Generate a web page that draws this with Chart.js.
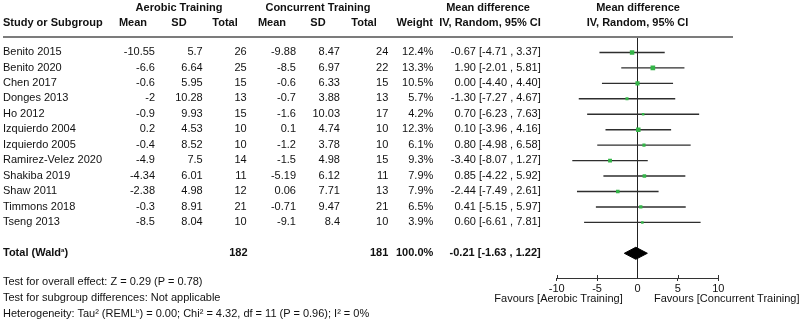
<!DOCTYPE html>
<html>
<head>
<meta charset="utf-8">
<script src="https://cdn.jsdelivr.net/npm/chart.js@4.4.1/dist/chart.umd.min.js"></script>
<style>
  html, body { margin: 0; padding: 0; background: #fff; }
  #wrap { position: relative; width: 800px; height: 324px; overflow: hidden;
    font-family: "Liberation Sans", Arial, sans-serif; font-size: 11px; color: #111; }
  #wrap canvas { position: absolute; left: 0; top: 0; }
  .t { position: absolute; white-space: nowrap; line-height: 13px; }
  .b { font-weight: bold; }
  sup { font-size: 6px; vertical-align: 4px; line-height: 0; }
  #hline { position: absolute; left: 3px; top: 36px; width: 730px; height: 2px; background: #7c7c7c; }
</style>
</head>
<body>
<div id="wrap">
  <canvas id="forest" width="800" height="324"></canvas>
  <div id="hline"></div>
</div>
<script>
const studies = ['Benito 2015', 'Benito 2020', 'Chen 2017', 'Donges 2013', 'Ho 2012', 'Izquierdo 2004',
  'Izquierdo 2005', 'Ramirez-Velez 2020', 'Shakiba 2019', 'Shaw 2011', 'Timmons 2018', 'Tseng 2013'];
const aerMean = [-10.55, -6.6, -0.6, -2, -0.9, 0.2, -0.4, -4.9, -4.34, -2.38, -0.3, -8.5];
const aerSD = [5.7, 6.64, 5.95, 10.28, 9.93, 4.53, 8.52, 7.5, 6.01, 4.98, 8.91, 8.04];
const aerN = [26, 25, 15, 13, 15, 10, 10, 14, 11, 12, 21, 10];
const conMean = [-9.88, -8.5, -0.6, -0.7, -1.6, 0.1, -1.2, -1.5, -5.19, 0.06, -0.71, -9.1];
const conSD = [8.47, 6.97, 6.33, 3.88, 10.03, 4.74, 3.78, 4.98, 6.12, 7.71, 9.47, 8.4];
const conN = [24, 22, 15, 13, 17, 10, 10, 15, 11, 13, 21, 10];
const weights = [12.4, 13.3, 10.5, 5.7, 4.2, 12.3, 6.1, 9.3, 7.9, 7.9, 6.5, 3.9];
const md = [-0.67, 1.90, 0.00, -1.30, 0.70, 0.10, 0.80, -3.40, 0.85, -2.44, 0.41, 0.60];
const ciLow = [-4.71, -2.01, -4.40, -7.27, -6.23, -3.96, -4.98, -8.07, -4.22, -7.49, -5.15, -6.61];
const ciHigh = [3.37, 5.81, 4.40, 4.67, 7.63, 4.16, 6.58, 1.27, 5.92, 2.61, 5.97, 7.81];
const totalAerN = 182;
const totalConN = 181;
const totalMd = -0.21;
const totalLow = -1.63;
const totalHigh = 1.22;
const xTicks = [-10, -5, 0, 5, 10];

const totalRow = 13;   // one blank row between the studies and the total
const fontFamily = '"Liberation Sans", Arial, sans-serif';

const datasets = [];
// squares
datasets.push({
  type: 'scatter',
  data: md.map((m, i) => ({ x: m, y: i })),
  pointStyle: 'rect',
  pointRadius: weights.map(w => Math.sqrt(w) * 0.9),
  backgroundColor: '#34b548',
  borderWidth: 0,
  order: 0
});
// confidence intervals
studies.forEach((s, i) => {
  datasets.push({
    type: 'line',
    data: [{ x: ciLow[i], y: i }, { x: ciHigh[i], y: i }],
    borderColor: '#2e2e2e',
    borderWidth: 1.4,
    pointRadius: 0,
    order: 1
  });
});
// pooled diamond
const dh = 0.39;
datasets.push({
  type: 'line',
  data: [
    { x: totalLow, y: totalRow },
    { x: totalMd, y: totalRow - dh },
    { x: totalHigh, y: totalRow },
    { x: totalMd, y: totalRow + dh },
    { x: totalLow, y: totalRow }
  ],
  borderColor: '#000',
  backgroundColor: '#000',
  borderWidth: 1,
  pointRadius: 0,
  fill: 'shape',
  order: 0
});

// small tick marks above the axis line too (the reference ticks cross the axis)
const crossTicks = {
  id: 'crossTicks',
  afterDraw(c) {
    const x = c.scales.x, ctx = c.ctx, y0 = c.chartArea.bottom;
    ctx.save();
    ctx.strokeStyle = '#333';
    ctx.lineWidth = 1;
    xTicks.forEach(v => {
      if (v === 0) return;
      const px = Math.round(x.getPixelForValue(v)) + 0.5;
      ctx.beginPath();
      ctx.moveTo(px, y0 - 3);
      ctx.lineTo(px, y0);
      ctx.stroke();
    });
    ctx.restore();
  }
};

const chart = new Chart(document.getElementById('forest'), {
  data: { datasets },
  plugins: [crossTicks],
  options: {
    responsive: false,
    animation: false,
    layout: { padding: { left: 556.7, right: 81.7, top: 37, bottom: 0 } },
    plugins: { legend: { display: false }, tooltip: { enabled: false } },
    scales: {
      x: {
        type: 'linear',
        min: xTicks[0],
        max: xTicks[xTicks.length - 1],
        afterBuildTicks: (s) => { s.ticks = xTicks.map(v => ({ value: v })); },
        afterFit: (s) => { s.height = 46; },
        ticks: { color: '#111', padding: 1, font: { family: fontFamily, size: 11 } },
        grid: {
          drawOnChartArea: true,
          color: (ctx) => (ctx.tick && ctx.tick.value === 0 ? '#222' : 'rgba(0,0,0,0)'),
          tickColor: (ctx) => (ctx.tick && ctx.tick.value === 0 ? 'rgba(0,0,0,0)' : '#333'),
          tickLength: 3,
          lineWidth: 1
        },
        border: { display: true, color: '#333', width: 1 }
      },
      y: { type: 'linear', reverse: true, min: -1, max: 14.6, display: false }
    }
  }
});

// text table
const wrap = document.getElementById('wrap');
function put(html, x, y, align, bold) {
  const d = document.createElement('div');
  d.className = 't' + (bold ? ' b' : '');
  d.innerHTML = html;
  d.style.top = (y - 6.5) + 'px';
  if (align === 'right') d.style.right = (800 - x) + 'px';
  else d.style.left = x + 'px';
  if (align === 'center') d.style.transform = 'translateX(-50%)';
  wrap.appendChild(d);
}

const yPix = (i) => chart.scales.y.getPixelForValue(i) - 0.8;
const fmtCI = (m, lo, hi) => m.toFixed(2) + ' [' + lo.toFixed(2) + ' , ' + hi.toFixed(2) + ']';

// headers
put('Aerobic Training', 179, 7.5, 'center', true);
put('Concurrent Training', 318, 7.5, 'center', true);
put('Mean difference', 488, 7.5, 'center', true);
put('Mean difference', 638, 7.5, 'center', true);
put('Study or Subgroup', 3, 22, 'left', true);
put('Mean', 133, 22, 'center', true);
put('SD', 179, 22, 'center', true);
put('Total', 225, 22, 'center', true);
put('Mean', 272, 22, 'center', true);
put('SD', 318, 22, 'center', true);
put('Total', 364, 22, 'center', true);
put('Weight', 433, 22, 'right', true);
put('IV, Random, 95% CI', 490, 22, 'center', true);
put('IV, Random, 95% CI', 637.5, 22, 'center', true);

// study rows
studies.forEach((s, i) => {
  const y = yPix(i);
  put(s, 3, y, 'left');
  put(String(aerMean[i]), 155, y, 'right');
  put(String(aerSD[i]), 202.7, y, 'right');
  put(String(aerN[i]), 246.7, y, 'right');
  put(String(conMean[i]), 296, y, 'right');
  put(String(conSD[i]), 340, y, 'right');
  put(String(conN[i]), 388.3, y, 'right');
  put(weights[i].toFixed(1) + '%', 433.3, y, 'right');
  put(fmtCI(md[i], ciLow[i], ciHigh[i]), 540.7, y, 'right');
});

// total row
const ty = yPix(totalRow);
put('Total (Wald<sup>a</sup>)', 3, ty, 'left', true);
put(String(totalAerN), 247.5, ty, 'right', true);
put(String(totalConN), 388.3, ty, 'right', true);
const wSum = weights.reduce((a, b) => a + b, 0);
put(wSum.toFixed(1) + '%', 433.3, ty, 'right', true);
put(fmtCI(totalMd, totalLow, totalHigh), 540.7, ty, 'right', true);

// axis captions
put('Favours [Aerobic Training]', 622.7, 298, 'right');
put('Favours [Concurrent Training]', 654, 298, 'left');

// footnotes
put('Test for overall effect: Z = 0.29 (P = 0.78)', 3, 281, 'left');
put('Test for subgroup differences: Not applicable', 3, 297, 'left');
put('Heterogeneity: Tau² (REML<sup>b</sup>) = 0.00; Chi² = 4.32, df = 11 (P = 0.96); I² = 0%', 3, 313, 'left');
</script>
</body>
</html>
